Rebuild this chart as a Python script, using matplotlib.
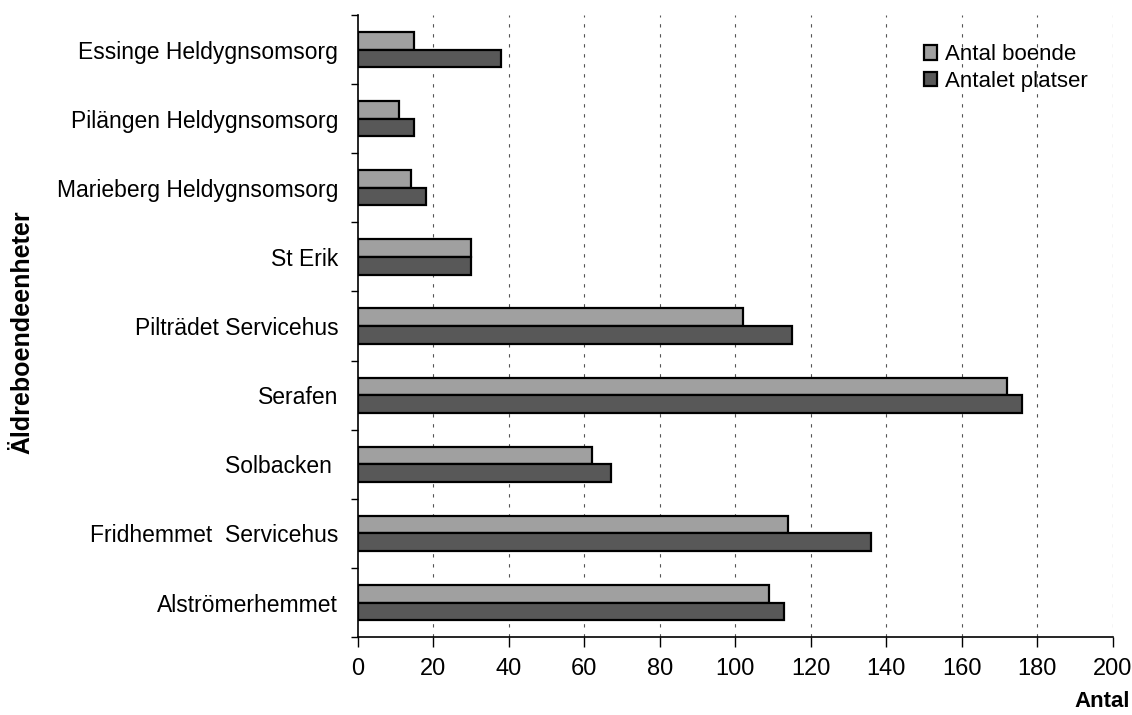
import numpy as np
import matplotlib
matplotlib.use("Agg")
import matplotlib.pyplot as plt

# Facilities, listed bottom to top
categories = [
    "Alströmerhemmet",
    "Fridhemmet  Servicehus",
    "Solbacken ",
    "Serafen",
    "Pilträdet Servicehus",
    "St Erik",
    "Marieberg Heldygnsomsorg",
    "Pilängen Heldygnsomsorg",
    "Essinge Heldygnsomsorg",
]
antal_boende = [109, 114, 62, 172, 102, 30, 14, 11, 15]
antalet_platser = [113, 136, 67, 176, 115, 30, 18, 15, 38]
x_ticks = [0, 20, 40, 60, 80, 100, 120, 140, 160, 180, 200]

plt.rcParams["font.family"] = ["Liberation Sans", "DejaVu Sans"]

fig = plt.figure(figsize=(11.32, 7.15), dpi=100)
ax = fig.add_axes([0.316, 0.109, 0.667, 0.870])

y = np.arange(len(categories))
h = 0.255
ax.barh(y + h / 2, antal_boende, height=h, color="#a0a0a0",
        edgecolor="black", linewidth=1.6, label="Antal boende", zorder=3)
ax.barh(y - h / 2, antalet_platser, height=h, color="#585858",
        edgecolor="black", linewidth=1.6, label="Antalet platser", zorder=3)

ax.set_xlim(0, 200)
ax.set_ylim(-0.5, len(categories) - 0.5)

ax.set_xticks(x_ticks)
ax.set_xticklabels([str(v) for v in x_ticks], fontsize=17)
ax.tick_params(axis="x", length=7, width=1, pad=8, direction="out")

ax.set_yticks(y)
ax.set_yticklabels(categories, fontsize=16.5)
ax.set_yticks(np.arange(-0.5, len(categories), 1.0), minor=True)
ax.tick_params(axis="y", which="major", length=0, pad=14)
ax.tick_params(axis="y", which="minor", length=5, width=1, direction="out")

for v in x_ticks[1:]:
    ax.axvline(v, color="#555555", linewidth=0.8, linestyle=(0, (3, 6)), zorder=1)

for side in ("top", "right"):
    ax.spines[side].set_visible(False)
for side in ("left", "bottom"):
    ax.spines[side].set_linewidth(1.2)

fig.text(0.020, 0.536, "Äldreboendeenheter", rotation=90, fontsize=18,
         fontweight="bold", ha="center", va="center")
fig.text(0.998, 0.004, "Antal", fontsize=16, fontweight="bold",
         ha="right", va="bottom")

leg = ax.legend(loc="upper right", bbox_to_anchor=(0.993, 0.985), frameon=False,
                fontsize=16, handlelength=0.6, handleheight=0.6,
                handletextpad=0.35, labelspacing=0.25)

fig.savefig("out.png", dpi=100)
